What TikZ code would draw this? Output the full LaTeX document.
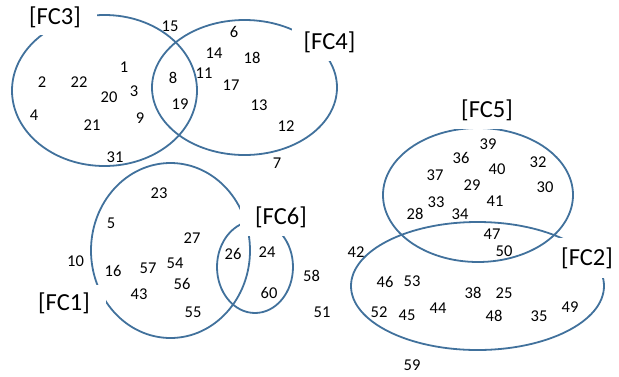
\documentclass[tikz,border=0pt]{standalone}
\usepackage{fontspec}
\setmainfont{Carlito}
\begin{document}
\begin{tikzpicture}[x=1pt,y=-1pt,
  venn/.style={draw={rgb,255:red,65;green,113;blue,156}, line width=1.8pt},
  setlabel/.style={fill=white, inner sep=0pt, minimum height=38pt,
    font=\fontsize{24.5}{26}\selectfont},
  elem/.style={inner sep=0pt, font=\fontsize{16.5}{18}\selectfont}]
\useasboundingbox (0,0) rectangle (619,376);

% the six sets
\draw[venn] (104.5,90.5) ellipse [x radius=92.5pt, y radius=75.5pt];
\draw[venn] (244.5,87.5) ellipse [x radius=92.5pt, y radius=67.5pt];
\draw[venn] (170.5,250.5) ellipse [x radius=79.5pt, y radius=87.5pt];
\draw[venn] (255,267) ellipse [x radius=38pt, y radius=46pt];
\draw[venn] (478,195) ellipse [x radius=95pt, y radius=67pt];
\draw[venn] (477.5,286) ellipse [x radius=126.5pt, y radius=64pt];

% set names on white boxes
\node[setlabel, minimum width=84pt, minimum height=35pt] (fc3) at (55,17.5) {[FC3]};
\node[setlabel, minimum width=75pt] (fc4) at (329.5,42) {[FC4]};
\node[setlabel, minimum width=83pt] (fc1) at (64,303.5) {[FC1]};
\node[setlabel, minimum width=82pt] (fc6) at (281,217) {[FC6]};
\node[setlabel, minimum width=68pt, minimum height=40pt] (fc2) at (587,258) {[FC2]};
\node[setlabel, minimum width=80pt] (fc5) at (487,110) {[FC5]};

% elements
\node[elem] (e15) at (170,26) {15};
\node[elem] (e6) at (234,32) {6};
\node[elem] (e14) at (214,53) {14};
\node[elem] (e18) at (252,58) {18};
\node[elem] (e1) at (124,67) {1};
\node[elem] (e2) at (42,82) {2};
\node[elem] (e22) at (79,82) {22};
\node[elem] (e8) at (173,78) {8};
\node[elem] (e11) at (204,73) {11};
\node[elem] (e17) at (231,85) {17};
\node[elem] (e20) at (109,97) {20};
\node[elem] (e3) at (134,91) {3};
\node[elem] (e19) at (180,104) {19};
\node[elem] (e13) at (259,105) {13};
\node[elem] (e4) at (34,115) {4};
\node[elem] (e21) at (92,125) {21};
\node[elem] (e9) at (140,118) {9};
\node[elem] (e12) at (286,126) {12};
\node[elem] (e31) at (115,157) {31};
\node[elem] (e7) at (277,163) {7};

\node[elem] (e23) at (159,193) {23};
\node[elem] (e5) at (111,223) {5};
\node[elem] (e27) at (192,238) {27};
\node[elem] (e26) at (233,254) {26};
\node[elem] (e24) at (267,252) {24};
\node[elem] (e10) at (75.5,261.5) {10};
\node[elem] (e16) at (113,270.5) {16};
\node[elem] (e57) at (148,268) {57};
\node[elem] (e54) at (175,263) {54};
\node[elem] (e56) at (182,284) {56};
\node[elem] (e58) at (311.5,276) {58};
\node[elem] (e43) at (139,294) {43};
\node[elem] (e60) at (269,293) {60};
\node[elem] (e55) at (193,312) {55};
\node[elem] (e51) at (322,312.5) {51};

\node[elem] (e39) at (488,144) {39};
\node[elem] (e36) at (461,158) {36};
\node[elem] (e32) at (538,162) {32};
\node[elem] (e40) at (497,169) {40};
\node[elem] (e37) at (435,175) {37};
\node[elem] (e29) at (472,185) {29};
\node[elem] (e30) at (545,187) {30};
\node[elem] (e33) at (436,202) {33};
\node[elem] (e41) at (495,201) {41};
\node[elem] (e28) at (415,213.5) {28};
\node[elem] (e34) at (460,214) {34};
\node[elem] (e47) at (492,234) {47};
\node[elem] (e42) at (356,252.5) {42};
\node[elem] (e50) at (504,251) {50};
\node[elem] (e46) at (385,281.5) {46};
\node[elem] (e53) at (412,281.5) {53};
\node[elem] (e38) at (473,293) {38};
\node[elem] (e25) at (504,293) {25};
\node[elem] (e49) at (570,307) {49};
\node[elem] (e44) at (438,308) {44};
\node[elem] (e52) at (379,312) {52};
\node[elem] (e45) at (407,315) {45};
\node[elem] (e48) at (494,316) {48};
\node[elem] (e35) at (539,316) {35};
\node[elem] (e59) at (412,365) {59};
\end{tikzpicture}
\end{document}
